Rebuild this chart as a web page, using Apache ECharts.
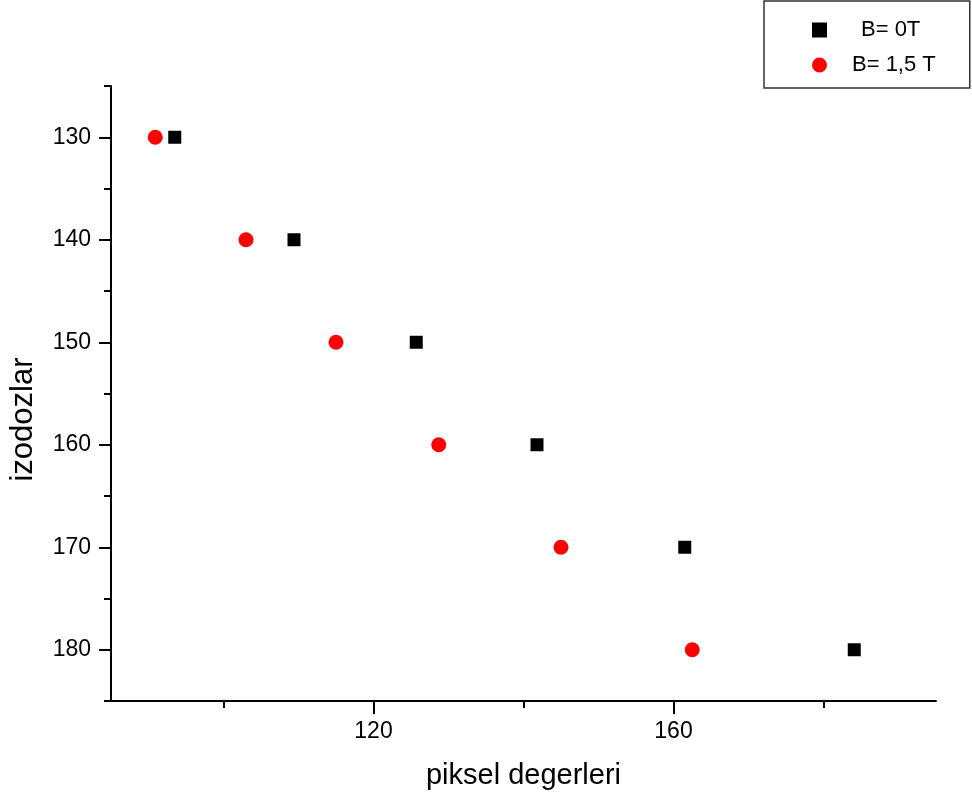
<!DOCTYPE html>
<html>
<head>
<meta charset="utf-8">
<script src="https://cdn.jsdelivr.net/npm/echarts@6/dist/echarts.min.js"></script>
<style>
html,body{margin:0;padding:0;background:#fff;}
#chart{width:972px;height:797px;}
</style>
</head>
<body>
<div id="chart"></div>
<script>
// Data
const seriesNames = ['B= 0T', 'B= 1,5 T'];
const izodozlar = [130, 140, 150, 160, 170, 180];
const piksel_B0 = [93.5, 109.4, 125.7, 141.8, 161.5, 184.1];
const piksel_B15 = [90.9, 103.0, 115.0, 128.7, 145.0, 162.5];

// Tick labels / tick positions
const xLabelValues = [120, 160];
const xMinorTicks = [100, 140, 180];
const yLabelValues = [130, 140, 150, 160, 170, 180];
const yMinorTicks = [125, 135, 145, 155, 165, 175, 185];

const pairs = (xs, ys) => xs.map((x, i) => [x, ys[i]]);

const chart = echarts.init(document.getElementById('chart'), null, {renderer: 'canvas'});
const FONT = 'Liberation Sans, Arial, sans-serif';
const axisLineStyle = {color: '#000', width: 2};

const option = {
  backgroundColor: '#fff',
  animation: false,
  textStyle: {fontFamily: FONT},
  grid: {left: 110, top: 86, right: 36, bottom: 96, containLabel: false},
  legend: {
    orient: 'vertical',
    left: 764,
    top: 1,
    align: 'left',
    padding: [18, 34, 12, 48],
    itemGap: 13,
    itemWidth: 15,
    itemHeight: 15,
    borderColor: '#333',
    borderWidth: 1.5,
    textStyle: {fontSize: 22, color: '#000', fontFamily: FONT},
    data: [
      {name: seriesNames[0], textStyle: {padding: [0, 0, 0, 29]}},
      {name: seriesNames[1], textStyle: {padding: [0, 0, 0, 20]}}
    ]
  },
  xAxis: [
    {
      type: 'value', min: 85, max: 195, position: 'bottom', offset: 0,
      axisLine: {show: true, onZero: false, lineStyle: axisLineStyle},
      axisTick: {show: true, customValues: xLabelValues, length: 13, lineStyle: axisLineStyle},
      axisLabel: {customValues: xLabelValues, fontSize: 23, color: '#000', margin: 19, fontFamily: FONT},
      splitLine: {show: false},
      name: 'piksel degerleri', nameLocation: 'middle', nameGap: 60,
      nameTextStyle: {fontSize: 29, color: '#000', fontFamily: FONT}
    },
    {
      type: 'value', min: 85, max: 195, position: 'bottom', offset: 0,
      axisLine: {show: false, onZero: false},
      axisTick: {show: true, customValues: xMinorTicks, length: 7, lineStyle: axisLineStyle},
      axisLabel: {show: false},
      splitLine: {show: false}
    }
  ],
  yAxis: [
    {
      type: 'value', min: 125, max: 185, inverse: true, position: 'left', offset: 0,
      axisLine: {show: true, onZero: false, lineStyle: axisLineStyle},
      axisTick: {show: true, customValues: yLabelValues, length: 12, lineStyle: axisLineStyle},
      axisLabel: {customValues: yLabelValues, fontSize: 23, color: '#000', margin: 20, fontFamily: FONT},
      splitLine: {show: false},
      name: 'izodozlar', nameLocation: 'middle', nameRotate: 90, nameGap: 72,
      nameTextStyle: {fontSize: 31, color: '#000', fontFamily: FONT, padding: [0, 52, 0, 0]}
    },
    {
      type: 'value', min: 125, max: 185, inverse: true, position: 'left', offset: 0,
      axisLine: {show: false, onZero: false},
      axisTick: {show: true, customValues: yMinorTicks, length: 7, lineStyle: axisLineStyle},
      axisLabel: {show: false},
      splitLine: {show: false}
    }
  ],
  series: [
    {
      name: seriesNames[0], type: 'scatter', xAxisIndex: 0, yAxisIndex: 0,
      symbol: 'rect', symbolSize: 13,
      itemStyle: {color: '#000', opacity: 1},
      data: pairs(piksel_B0, izodozlar)
    },
    {
      name: seriesNames[1], type: 'scatter', xAxisIndex: 0, yAxisIndex: 0,
      symbol: 'circle', symbolSize: 15,
      itemStyle: {color: '#ff0000', opacity: 1},
      data: pairs(piksel_B15, izodozlar)
    }
  ]
};
chart.setOption(option);
</script>
</body>
</html>
